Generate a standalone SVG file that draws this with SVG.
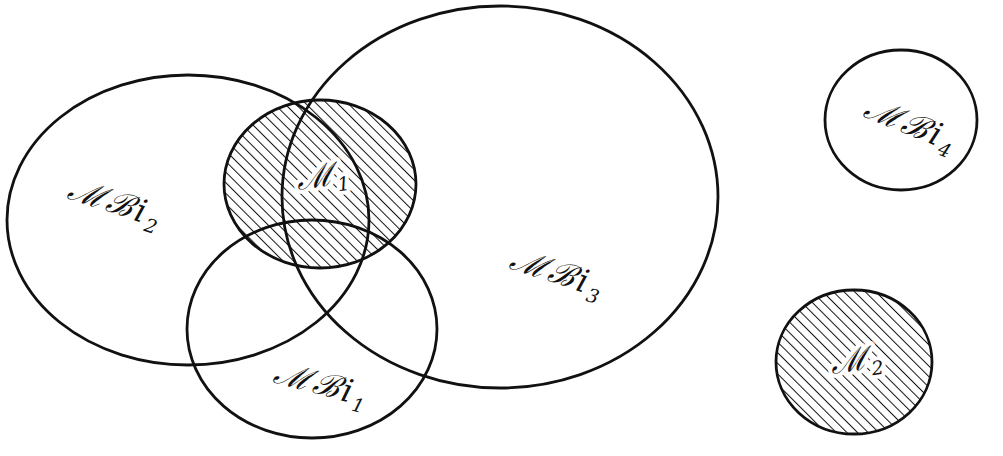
<svg xmlns="http://www.w3.org/2000/svg" width="1003" height="456" viewBox="0 0 1003 456">
<style>
.o{fill:none;stroke:#111;stroke-width:2.8}
.h{fill:url(#hatch);stroke:none}
.t{font-family:"DejaVu Serif",serif;font-style:italic;font-size:32px;fill:#111;letter-spacing:3px}
.s{font-size:19px}
.k{stroke:#fff;stroke-width:8;paint-order:stroke;stroke-linejoin:round}
</style>
<defs>
<pattern id="hatch" width="7.5" height="7.5" patternUnits="userSpaceOnUse" patternTransform="rotate(-45)">
<rect width="7.5" height="7.5" fill="#fff"/>
<line x1="0" y1="0" x2="0" y2="7.5" stroke="#111" stroke-width="2"/>
</pattern>
</defs>
<rect width="1003" height="456" fill="#fff"/>
<g id="M1-fill"><ellipse class="h" cx="320" cy="184" rx="96" ry="84"/></g>
<g id="M2-fill"><ellipse class="h" cx="854" cy="362" rx="78" ry="72"/></g>
<g id="Mbi2"><ellipse class="o" cx="188" cy="220" rx="181" ry="145"/>
<text class="t" transform="translate(66,198) rotate(18)">ℳℬi<tspan class="s" dy="7">2</tspan></text></g>
<g id="Mbi3"><ellipse class="o" cx="500" cy="197" rx="218" ry="191"/>
<text class="t" transform="translate(508,268) rotate(18)">ℳℬi<tspan class="s" dy="7">3</tspan></text></g>
<g id="Mbi1"><ellipse class="o" cx="312" cy="329" rx="125" ry="109"/>
<text class="t" transform="translate(272,382) rotate(15)">ℳℬi<tspan class="s" dy="7">1</tspan></text></g>
<g id="M1"><ellipse class="o" cx="320" cy="184" rx="96" ry="84"/>
<text class="t k" transform="translate(298,190) rotate(-8)">ℳ<tspan class="s" dy="7">1</tspan></text></g>
<g id="Mbi4"><ellipse class="o" cx="901" cy="120" rx="76" ry="70"/>
<text class="t" transform="translate(862,116) rotate(22)">ℳℬi<tspan class="s" dy="7">4</tspan></text></g>
<g id="M2"><ellipse class="o" cx="854" cy="362" rx="78" ry="72"/>
<text class="t k" transform="translate(832,374) rotate(-8)">ℳ<tspan class="s" dy="7">2</tspan></text></g>
<g id="connectors"/>
</svg>
